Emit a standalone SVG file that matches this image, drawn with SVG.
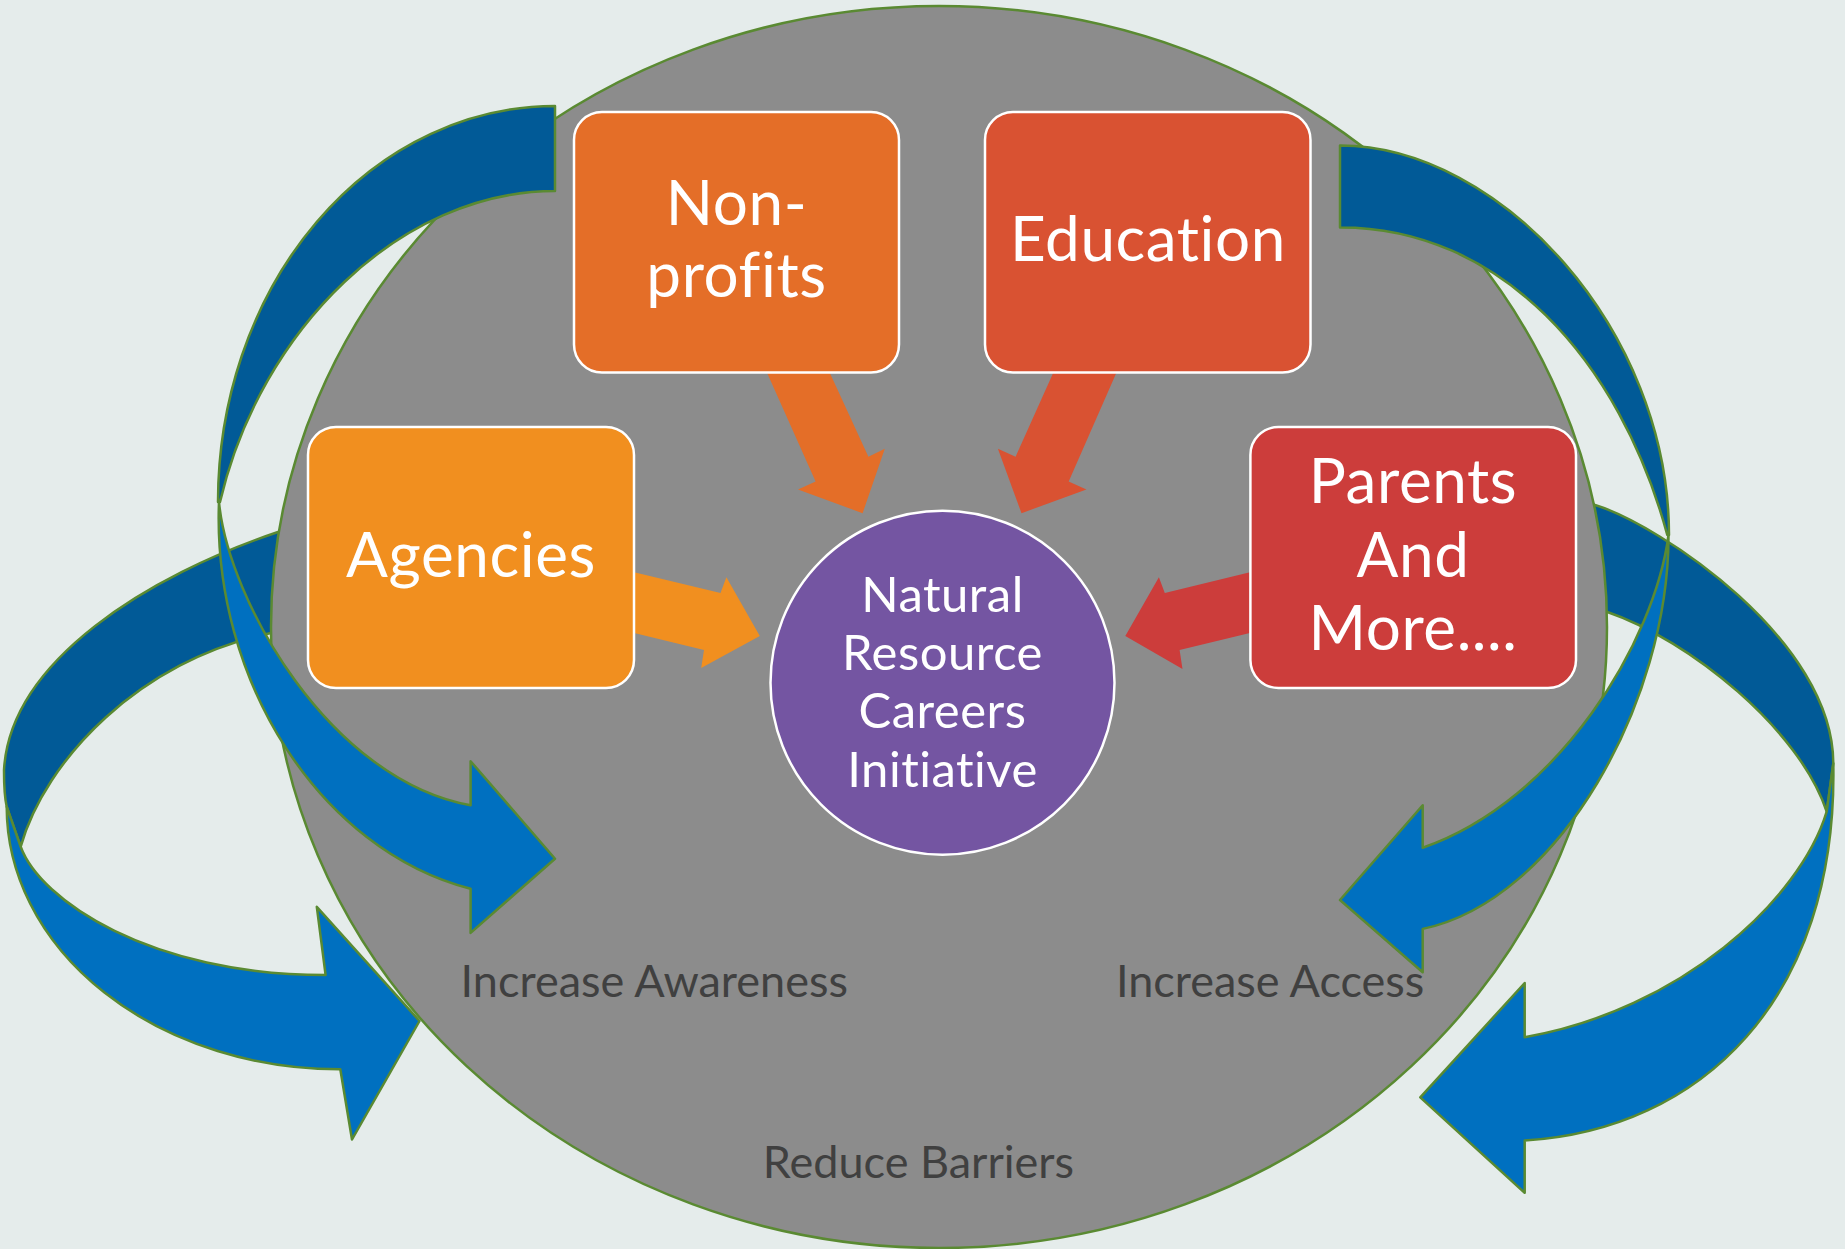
<svg xmlns="http://www.w3.org/2000/svg" width="1845" height="1249" viewBox="0 0 1845 1249">
<style>
.bg{fill:#E5ECEB}
.dk{fill:#015A97;stroke:#5A8A32;stroke-width:2.5;stroke-linejoin:round}
.lt{fill:#0070C0;stroke:#5A8A32;stroke-width:2.5;stroke-linejoin:round}
.box{stroke:#FFFFFF;stroke-width:2.5}
text{font-variant-ligatures:none;font-feature-settings:"liga" 0,"clig" 0,"dlig" 0}
.bt{font-family:Lato,"Liberation Sans",sans-serif;fill:#FFFFFF;text-anchor:middle;font-size:62px;letter-spacing:0.6px}
.ct{font-family:Lato,"Liberation Sans",sans-serif;fill:#FFFFFF;text-anchor:middle;font-size:49px;letter-spacing:0.5px}
.gt{font-family:Lato,"Liberation Sans",sans-serif;fill:#404040;font-size:45px}
</style>
<rect class="bg" x="0" y="0" width="1845" height="1249"/>
<g id="back-arrows">
<path id="arrowB-back" class="dk" d="M330,512 L278,532 C150,575 10,660 4,770 Q4,795 6.7,806.7 L20.7,846.7 C45,760 140,660 270,633.3 L330,608 Z"/>
<path id="arrowD-back" class="dk" d="M1560,490 L1595,505 C1660,525 1833,640 1833.3,763.3 L1826.7,811.7 C1800,730 1690,640 1606.7,611.7 L1560,595 Z"/>
</g>
<ellipse id="outer-ellipse" cx="939" cy="627" rx="668" ry="621" fill="#8C8C8C" stroke="#5A8A32" stroke-width="2.5"/>
<g id="connectors">
<path fill="#E46E28" d="M765.8,370 L815.6,481.6 L798,489.5 L862.6,513.2 L884.8,448.8 L868.4,456.7 L828.5,370 Z"/>
<path fill="#D95232" d="M1054.5,370 L1015.6,456.7 L997.9,448.8 L1021.5,513.2 L1086.4,489.5 L1068.7,481.6 L1117.6,370 Z"/>
<path fill="#F18F1F" d="M630,571.3 L720.5,593 L726.4,577.3 L759.8,636 L701.2,668.1 L704,650 L630,632 Z"/>
<path fill="#CC3D3B" d="M1254,571.3 L1164.8,593 L1158.9,577.3 L1125.3,636 L1182.5,669 L1179.6,650 L1254,632 Z"/>
</g>
<g id="node-nonprofits">
<rect class="box" x="574" y="112" width="325" height="260.5" rx="28" fill="#E46E28"/>
<text class="bt" x="736.5" y="224.6">Non-</text>
<text class="bt" x="736.5" y="297.3">profits</text>
</g>
<g id="node-education">
<rect class="box" x="985" y="112" width="325.5" height="260.5" rx="28" fill="#D95232"/>
<text class="bt" x="1148" y="261">Education</text>
</g>
<g id="node-agencies">
<rect class="box" x="308" y="427" width="326" height="261" rx="28" fill="#F18F1F"/>
<text class="bt" x="471" y="577.3">Agencies</text>
</g>
<g id="node-parents">
<rect class="box" x="1250.4" y="427" width="325.6" height="261" rx="28" fill="#CC3D3B"/>
<text class="bt" x="1413" y="503.3">Parents</text>
<text class="bt" x="1413" y="576.5">And</text>
<text class="bt" x="1413" y="650">More....</text>
</g>
<g id="node-center">
<circle cx="942.5" cy="682.7" r="172" fill="#7455A2" stroke="#FFFFFF" stroke-width="2.5"/>
<text class="ct" x="942.5" y="612">Natural</text>
<text class="ct" x="942.5" y="670">Resource</text>
<text class="ct" x="942.5" y="728.3">Careers</text>
<text class="ct" x="942.5" y="786.5">Initiative</text>
</g>
<g id="front-arrows">
<path id="arrowA-back" class="dk" d="M555,106 A337,396 0 0 0 218,502 L220,502 C260,330 400,191 555,191 Z"/>
<path id="arrowA-front" class="lt" d="M219,502 C212,680 320,850 470.6,888.8 L470.6,932.9 L555,858.7 L470.6,761.2 L470.6,805.3 C330,780 228,600 219,502 Z"/>
<path id="arrowB-front" class="lt" d="M6.7,806.7 A333,262.6 0 0 0 340.3,1069.3 L352,1139.5 L419.5,1021 L316.8,906.8 L325.6,975 C150,975 40,900 20.7,846.7 Z"/>
<path id="arrowC-back" class="dk" d="M1340,145.5 C1500,145.5 1669,330 1669,535 L1667.3,535 C1620,360 1500,227 1340,227.4 Z"/>
<path id="arrowC-front" class="lt" d="M1668.5,535 C1669,700 1560,900 1422.7,928.9 L1422.7,972.2 L1340,900 L1422.7,805.3 L1422.7,847.8 C1560,800 1655,640 1668.5,535 Z"/>
<path id="arrowD-front" class="lt" d="M1833.3,763.3 C1838,1000 1700,1130 1524.7,1140.6 L1524.7,1192.8 L1420.3,1097.3 L1524.7,983 L1524.7,1037.2 C1680,1010 1800,900 1826.7,811.7 Z"/>
</g>
<g id="labels">
<text class="gt" x="460.6" y="997">Increase Awareness</text>
<text class="gt" x="1115.9" y="997">Increase Access</text>
<text class="gt" x="762.8" y="1177.6">Reduce Barriers</text>
</g>
</svg>
